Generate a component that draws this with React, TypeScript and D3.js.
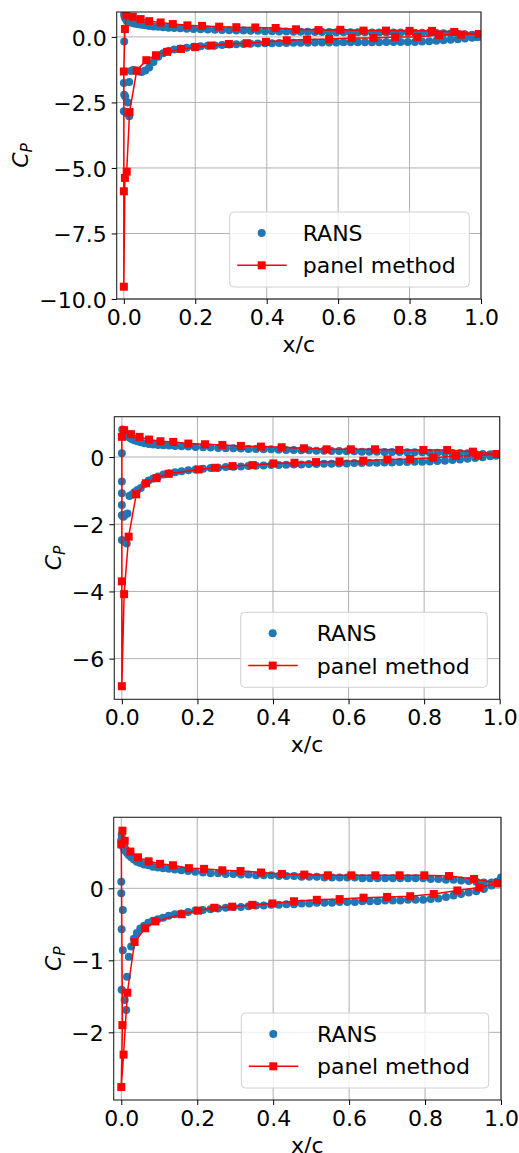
import React, { useEffect, useRef } from 'react';
import * as d3 from 'd3';

const WIDTH = 519;
const HEIGHT = 1153;
const FONT = '"DejaVu Sans", sans-serif';
const BLUE = '#1f77b4';
const RED = '#ff0000';

const xTicks = [0, 0.2, 0.4, 0.6, 0.8, 1.0];
const xLimits = [-0.02, 1.0];

// RANS surface stations, same mesh for all three cases
const ransX = [0.015, 0.02, 0.026, 0.033, 0.041, 0.05, 0.06, 0.071, 0.083, 0.096,
    0.11, 0.125, 0.141, 0.158, 0.176, 0.195, 0.215, 0.235, 0.255, 0.275,
    0.295, 0.315, 0.335, 0.355, 0.375, 0.395, 0.415, 0.435, 0.455, 0.475,
    0.495, 0.515, 0.535, 0.555, 0.575, 0.595, 0.615, 0.635, 0.655, 0.675,
    0.695, 0.715, 0.735, 0.755, 0.775, 0.795, 0.815, 0.835, 0.855, 0.875,
    0.895, 0.915, 0.935, 0.955, 0.975, 0.99, 1.0];

// case 1
const rans1Pressure = [0.58, 0.55, 0.52, 0.50, 0.48, 0.46, 0.44, 0.42, 0.40, 0.39,
    0.37, 0.35, 0.34, 0.33, 0.31, 0.30, 0.29, 0.28, 0.27, 0.26,
    0.25, 0.24, 0.24, 0.23, 0.23, 0.22, 0.22, 0.21, 0.21, 0.20,
    0.20, 0.20, 0.19, 0.19, 0.19, 0.18, 0.18, 0.18, 0.18, 0.18,
    0.17, 0.17, 0.17, 0.17, 0.17, 0.17, 0.16, 0.16, 0.16, 0.15,
    0.14, 0.13, 0.12, 0.10, 0.08, 0.06, 0.05];
const rans1Suction = [-1.72, -1.30, -1.26, -1.28, -1.32, -1.34, -1.28, -1.17, -0.96, -0.76,
    -0.62, -0.54, -0.48, -0.44, -0.41, -0.38, -0.36, -0.34, -0.33, -0.31,
    -0.29, -0.28, -0.27, -0.26, -0.25, -0.24, -0.24, -0.23, -0.23, -0.22,
    -0.22, -0.22, -0.21, -0.21, -0.21, -0.21, -0.20, -0.20, -0.20, -0.20,
    -0.20, -0.20, -0.19, -0.19, -0.19, -0.19, -0.19, -0.18, -0.17, -0.15,
    -0.13, -0.11, -0.09, -0.06, -0.03, -0.01, 0.01];
const rans1Nose = [[0.001, 0.86], [0.002, 0.78], [0.004, 0.70], [0.008, 0.63], [0.011, 0.60],
    [0.001, -0.18], [0.0, -1.76], [0.001, -2.21], [0.004, -2.27], [0.0, -2.84],
    [0.007, -2.90], [0.015, -3.03], [0.011, -2.50]];
const panel1X = [0.994, 0.925, 0.863, 0.800, 0.734, 0.671, 0.606, 0.545, 0.482, 0.425,
    0.368, 0.315, 0.267, 0.219, 0.178, 0.137, 0.103, 0.071, 0.047, 0.025,
    0.007, 0.003, 0.0, 0.0, 0.0, 0.003, 0.008, 0.016, 0.036, 0.063,
    0.090, 0.121, 0.160, 0.200, 0.245, 0.294, 0.344, 0.398, 0.456, 0.513,
    0.575, 0.638, 0.699, 0.760, 0.822, 0.883, 0.944, 0.994];
const panel1Cp = [0.11, 0.19, 0.23, 0.23, 0.24, 0.24, 0.27, 0.26, 0.29, 0.34,
    0.36, 0.37, 0.39, 0.42, 0.44, 0.49, 0.55, 0.60, 0.68, 0.77,
    0.84, 0.30, -1.32, -5.89, -9.53, -5.38, -5.14, -2.87, -1.29, -0.89,
    -0.70, -0.57, -0.46, -0.39, -0.33, -0.27, -0.24, -0.19, -0.13, -0.10,
    -0.08, -0.04, -0.04, 0.0, 0.0, 0.07, 0.09, 0.11];
const yTicks1 = [0, -2.5, -5, -7.5, -10];

// case 2
const rans2Pressure = [0.62, 0.58, 0.54, 0.50, 0.47, 0.44, 0.41, 0.39, 0.37, 0.36,
    0.35, 0.34, 0.33, 0.32, 0.31, 0.30, 0.29, 0.28, 0.27, 0.26,
    0.26, 0.25, 0.24, 0.24, 0.23, 0.23, 0.22, 0.21, 0.21, 0.20,
    0.20, 0.19, 0.19, 0.18, 0.18, 0.17, 0.17, 0.16, 0.16, 0.16,
    0.15, 0.15, 0.15, 0.14, 0.14, 0.14, 0.13, 0.13, 0.13, 0.12,
    0.12, 0.11, 0.10, 0.09, 0.08, 0.07, 0.06];
const rans2Suction = [-1.68, -1.16, -1.12, -1.05, -0.98, -0.92, -0.80, -0.70, -0.64, -0.58,
    -0.52, -0.48, -0.45, -0.42, -0.39, -0.37, -0.35, -0.33, -0.32, -0.30,
    -0.29, -0.28, -0.27, -0.26, -0.25, -0.24, -0.24, -0.23, -0.22, -0.22,
    -0.21, -0.21, -0.20, -0.20, -0.19, -0.19, -0.18, -0.18, -0.17, -0.17,
    -0.16, -0.16, -0.15, -0.15, -0.14, -0.14, -0.13, -0.12, -0.11, -0.09,
    -0.07, -0.05, -0.03, -0.01, 0.02, 0.04, 0.06];
const rans2Nose = [[0.001, 0.82], [0.004, 0.78], [0.008, 0.70], [0.012, 0.65], [0.0, 0.11],
    [0.0, -0.73], [0.0, -1.08], [0.0, -1.43], [0.0, -1.73], [0.004, -1.78],
    [0.009, -1.72], [0.0, -2.47], [0.007, -2.52], [0.013, -2.57]];
const panel2X = [0.992, 0.929, 0.861, 0.798, 0.734, 0.670, 0.606, 0.542, 0.482, 0.423,
    0.368, 0.315, 0.266, 0.220, 0.176, 0.136, 0.102, 0.072, 0.047, 0.024,
    0.006, 0.0, 0.0, 0.0, 0.006, 0.018, 0.038, 0.064, 0.092, 0.124,
    0.203, 0.247, 0.293, 0.346, 0.401, 0.457, 0.514, 0.576, 0.639, 0.703,
    0.763, 0.824, 0.884, 0.943, 0.992];
const panel2Cp = [0.09, 0.16, 0.21, 0.21, 0.21, 0.23, 0.23, 0.23, 0.26, 0.29,
    0.31, 0.33, 0.36, 0.38, 0.40, 0.45, 0.47, 0.52, 0.60, 0.68,
    0.80, 0.60, -3.70, -6.82, -4.08, -2.37, -1.11, -0.78, -0.63, -0.50,
    -0.37, -0.32, -0.27, -0.24, -0.19, -0.17, -0.15, -0.13, -0.11, -0.07,
    -0.06, -0.02, 0.03, 0.04, 0.09];
const yTicks2 = [0, -2, -4, -6];

// case 3
const rans3Pressure = [0.49, 0.46, 0.43, 0.40, 0.37, 0.35, 0.33, 0.32, 0.30, 0.29,
    0.28, 0.27, 0.26, 0.25, 0.24, 0.23, 0.22, 0.21, 0.21, 0.20,
    0.20, 0.19, 0.19, 0.18, 0.18, 0.18, 0.17, 0.17, 0.17, 0.16,
    0.16, 0.16, 0.15, 0.15, 0.15, 0.15, 0.15, 0.14, 0.14, 0.14,
    0.14, 0.14, 0.14, 0.14, 0.14, 0.14, 0.13, 0.13, 0.12, 0.12,
    0.11, 0.10, 0.09, 0.08, 0.08, 0.09, 0.11];
const rans3Suction = [-1.23, -0.95, -0.81, -0.70, -0.62, -0.56, -0.52, -0.48, -0.45, -0.43,
    -0.41, -0.38, -0.36, -0.35, -0.33, -0.31, -0.30, -0.29, -0.28, -0.27,
    -0.26, -0.26, -0.25, -0.24, -0.24, -0.23, -0.23, -0.22, -0.22, -0.21,
    -0.21, -0.20, -0.20, -0.20, -0.19, -0.19, -0.19, -0.18, -0.18, -0.18,
    -0.17, -0.17, -0.17, -0.16, -0.16, -0.16, -0.15, -0.14, -0.12, -0.10,
    -0.08, -0.06, -0.04, -0.01, 0.04, 0.09, 0.15];
const rans3Nose = [[0.001, 0.74], [0.0, 0.67], [0.001, 0.63], [0.004, 0.58], [0.008, 0.53],
    [0.0, 0.09], [0.0, -0.07], [0.004, -0.30], [0.001, -0.57], [0.004, -0.86],
    [0.001, -1.41], [0.009, -1.55], [0.013, -1.69]];
const panel3X = [0.992, 0.929, 0.863, 0.798, 0.733, 0.669, 0.606, 0.544, 0.482, 0.423,
    0.368, 0.314, 0.266, 0.218, 0.178, 0.136, 0.102, 0.072, 0.044, 0.024,
    0.009, 0.003, 0.0, 0.003, 0.0, 0.006, 0.016, 0.035, 0.063, 0.090,
    0.159, 0.202, 0.245, 0.292, 0.345, 0.398, 0.455, 0.515, 0.575, 0.638,
    0.700, 0.761, 0.823, 0.885, 0.943, 0.992];
const panel3Cp = [0.07, 0.13, 0.17, 0.18, 0.18, 0.18, 0.18, 0.18, 0.19, 0.20,
    0.22, 0.24, 0.25, 0.27, 0.28, 0.32, 0.34, 0.375, 0.43, 0.51,
    0.66, 0.80, 0.61, -1.90, -2.76, -2.31, -1.45, -0.745, -0.555, -0.46,
    -0.36, -0.31, -0.27, -0.255, -0.23, -0.21, -0.18, -0.16, -0.15, -0.13,
    -0.12, -0.11, -0.08, -0.03, 0.01, 0.07];
const yTicks3 = [0, -1, -2];

const legendLabels = ['RANS', 'panel method'];

const cases = [
    {
        ransPressure: rans1Pressure, ransSuction: rans1Suction, ransNose: rans1Nose,
        panelX: panel1X, panelCp: panel1Cp, yTicks: yTicks1, yLimits: [-10, 0.95], yFormat: '.1f',
        frame: { left: 116.7, right: 481, top: 12, bottom: 299 }, labelX: 28,
        legend: { left: 229.7, width: 239.6, textX: 302.7 },
    },
    {
        ransPressure: rans2Pressure, ransSuction: rans2Suction, ransNose: rans2Nose,
        panelX: panel2X, panelCp: panel2Cp, yTicks: yTicks2, yLimits: [-7.21, 1.2], yFormat: 'd',
        frame: { left: 114.3, right: 499.7, top: 416.7, bottom: 699.3 }, labelX: 61,
        legend: { left: 240.7, width: 246.6, textX: 316.7 },
    },
    {
        ransPressure: rans3Pressure, ransSuction: rans3Suction, ransNose: rans3Nose,
        panelX: panel3X, panelCp: panel3Cp, yTicks: yTicks3, yLimits: [-2.94, 0.986], yFormat: 'd',
        frame: { left: 113.7, right: 501, top: 817.3, bottom: 1100 }, labelX: 61,
        legend: { left: 241.3, width: 247.4, textX: 317 },
    },
];

const App = () => {
    const ref = useRef<SVGSVGElement>(null);

    useEffect(() => {
        const svg = d3.select(ref.current);
        svg.selectAll('*').remove();
        cases.forEach((c, i) => drawPanel(svg, c, i));
    }, []);

    const drawPanel = (svg: any, c: any, i: number) => {
        const { left, right, top, bottom } = c.frame;
        const x = d3.scaleLinear().domain(xLimits).range([left, right]);
        const y = d3.scaleLinear().domain(c.yLimits).range([bottom, top]);

        const clipId = `axes-clip-${i}`;
        svg.append('clipPath').attr('id', clipId)
            .append('rect')
            .attr('x', left).attr('y', top)
            .attr('width', right - left).attr('height', bottom - top);

        // grid
        const grid = svg.append('g').attr('stroke', '#b0b0b0').attr('stroke-width', 1);
        grid.selectAll('line.gx').data(xTicks).enter().append('line')
            .attr('x1', (d: number) => x(d)).attr('x2', (d: number) => x(d))
            .attr('y1', top).attr('y2', bottom);
        grid.selectAll('line.gy').data(c.yTicks).enter().append('line')
            .attr('x1', left).attr('x2', right)
            .attr('y1', (d: number) => y(d)).attr('y2', (d: number) => y(d));

        const plot = svg.append('g').attr('clip-path', `url(#${clipId})`);

        // RANS scatter
        const rans = [
            ...ransX.map((v, k) => [v, c.ransPressure[k]]),
            ...ransX.map((v, k) => [v, c.ransSuction[k]]),
            ...c.ransNose,
        ];
        plot.selectAll('circle').data(rans).enter().append('circle')
            .attr('cx', (d: number[]) => x(d[0]))
            .attr('cy', (d: number[]) => y(d[1]))
            .attr('r', 4)
            .attr('fill', BLUE);

        // panel method line + squares
        const pts = c.panelX.map((v: number, k: number) => [v, c.panelCp[k]]);
        plot.append('path')
            .datum(pts)
            .attr('fill', 'none')
            .attr('stroke', RED)
            .attr('stroke-width', 1.5)
            .attr('d', d3.line<number[]>().x(d => x(d[0])).y(d => y(d[1])));
        plot.selectAll('rect.sq').data(pts).enter().append('rect')
            .attr('x', (d: number[]) => x(d[0]) - 4)
            .attr('y', (d: number[]) => y(d[1]) - 4)
            .attr('width', 8).attr('height', 8)
            .attr('fill', RED);

        // frame
        svg.append('rect')
            .attr('x', left).attr('y', top)
            .attr('width', right - left).attr('height', bottom - top)
            .attr('fill', 'none').attr('stroke', '#262626').attr('stroke-width', 1.1);

        // X axis
        const xAxis = svg.append('g')
            .attr('transform', `translate(0,${bottom})`)
            .call(d3.axisBottom(x).tickValues(xTicks).tickFormat(d3.format('.1f'))
                .tickSize(5).tickSizeOuter(0).tickPadding(5.5));
        xAxis.select('.domain').remove();
        xAxis.attr('font-size', 22).attr('font-family', FONT);
        xAxis.selectAll('text').attr('fill', '#000');

        // Y axis
        const yAxis = svg.append('g')
            .attr('transform', `translate(${left},0)`)
            .call(d3.axisLeft(y).tickValues(c.yTicks).tickFormat(d3.format(c.yFormat))
                .tickSize(5).tickSizeOuter(0).tickPadding(5));
        yAxis.select('.domain').remove();
        yAxis.attr('font-size', 22).attr('font-family', FONT);
        yAxis.selectAll('text').attr('fill', '#000').attr('dy', '0.37em');

        // axis labels
        svg.append('text')
            .attr('x', (left + right) / 2).attr('y', bottom + 53)
            .attr('text-anchor', 'middle')
            .attr('font-family', FONT).attr('font-size', 22)
            .text('x/c');
        const yl = svg.append('text')
            .attr('transform', `translate(${c.labelX},${(top + bottom) / 2}) rotate(-90)`)
            .attr('text-anchor', 'middle')
            .attr('font-family', FONT).attr('font-size', 22).attr('font-style', 'italic');
        yl.append('tspan').text('C');
        yl.append('tspan').attr('font-size', 15.5).attr('dy', 3.5).text('P');

        // legend
        const boxTop = bottom - 12 - 75;
        const lg = svg.append('g');
        lg.append('rect')
            .attr('x', c.legend.left).attr('y', boxTop)
            .attr('width', c.legend.width).attr('height', 75)
            .attr('rx', 4)
            .attr('fill', '#fff').attr('fill-opacity', 0.8)
            .attr('stroke', '#d0d0d0').attr('stroke-width', 1);
        const row1 = boxTop + 21;
        const row2 = boxTop + 53.3;
        const mx = c.legend.left + 32;
        lg.append('circle').attr('cx', mx).attr('cy', row1).attr('r', 4).attr('fill', BLUE);
        lg.append('line')
            .attr('x1', c.legend.left + 7.5).attr('x2', c.legend.left + 57)
            .attr('y1', row2).attr('y2', row2)
            .attr('stroke', RED).attr('stroke-width', 1.5);
        lg.append('rect').attr('x', mx - 4).attr('y', row2 - 4).attr('width', 8).attr('height', 8).attr('fill', RED);
        lg.selectAll('text.lab').data(legendLabels).enter().append('text')
            .attr('x', c.legend.textX)
            .attr('y', (d: string, k: number) => (k === 0 ? row1 : row2) + 8)
            .attr('font-family', FONT).attr('font-size', 22)
            .text((d: string) => d);
    };

    return (
        <svg ref={ref} width={WIDTH} height={HEIGHT}
            style={{ position: 'absolute', left: 0, top: 0, background: '#fff' }}></svg>
    );
};

export default App;
